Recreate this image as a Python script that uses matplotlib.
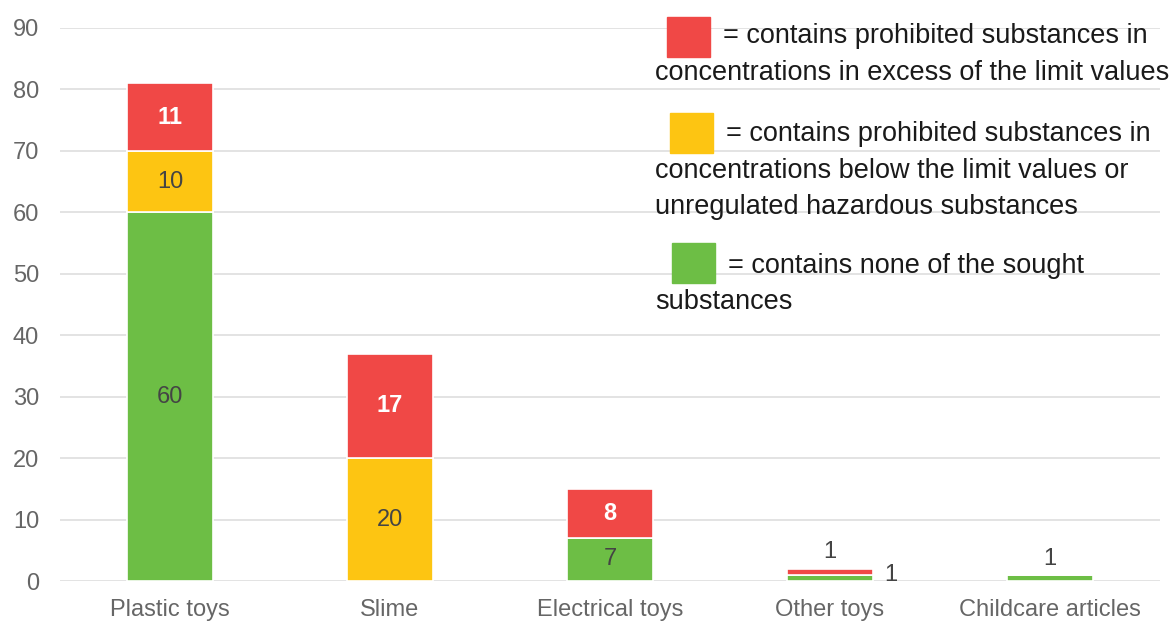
import matplotlib
matplotlib.use("Agg")
import matplotlib.pyplot as plt
from matplotlib.patches import Rectangle
import numpy as np

plt.rcParams['font.family'] = ['Liberation Sans', 'DejaVu Sans']

categories = ["Plastic toys", "Slime", "Electrical toys", "Other toys", "Childcare articles"]
none_found = [60, 0, 7, 1, 1]
below_limit = [10, 20, 0, 0, 0]
above_limit = [11, 17, 8, 1, 0]
y_ticks = [0, 10, 20, 30, 40, 50, 60, 70, 80, 90]

legend_texts = [
    "= contains prohibited substances in\nconcentrations in excess of the limit values",
    "= contains prohibited substances in\nconcentrations below the limit values or\nunregulated hazardous substances",
    "= contains none of the sought\nsubstances",
]

GREEN = "#6DBE45"
YELLOW = "#FDC512"
RED = "#F04846"
TICK_GRAY = "#666666"
LABEL_GRAY = "#444444"

W, H = 1175, 621
fig = plt.figure(figsize=(W / 100, H / 100), dpi=100)
ax = fig.add_axes([60 / W, 1 - 581 / H, 1100 / W, (581 - 28) / H])

x = np.arange(len(categories))
bw = 0.39
series = [(none_found, GREEN), (below_limit, YELLOW), (above_limit, RED)]
bottom = np.zeros(len(categories))
for vals, col in series:
    vals = np.array(vals, dtype=float)
    ax.bar(x, vals, bw, bottom=bottom, color=col, edgecolor="white",
           linewidth=1.2, zorder=3)
    bottom += vals

# segment value labels
bottom = np.zeros(len(categories))
for vals, col in series:
    for i, v in enumerate(vals):
        if v == 0:
            continue
        if v >= 5:
            bold = col == RED
            ax.text(x[i], bottom[i] + v / 2, str(v), ha="center", va="center",
                    fontsize=17, color="white" if bold else LABEL_GRAY,
                    fontweight="bold" if bold else "normal", zorder=4)
        bottom[i] += v

# small segments: labels placed outside the bars
ax.text(x[3], above_limit[3] + none_found[3] + 2.7, str(above_limit[3]), ha="center",
        va="center", fontsize=17, color=LABEL_GRAY)
ax.text(x[3] + bw / 2 + 0.08, none_found[3] / 2 + 0.4, str(none_found[3]), ha="center",
        va="center", fontsize=17, color=LABEL_GRAY)
ax.text(x[4], none_found[4] + 2.5, str(none_found[4]), ha="center",
        va="center", fontsize=17, color=LABEL_GRAY)

ax.set_xlim(-0.5, len(categories) - 0.5)
ax.set_ylim(0, 90)
ax.set_yticks(y_ticks)
ax.set_xticks(x)
ax.set_xticklabels(categories)
ax.tick_params(axis="both", length=0, labelsize=17, colors=TICK_GRAY)
ax.tick_params(axis="y", pad=15)
ax.tick_params(axis="x", pad=13)
ax.grid(axis="y", color="#E0E0E0", linewidth=1.3, zorder=0)
ax.set_axisbelow(True)
for s in ax.spines.values():
    s.set_visible(False)

# legend drawn as swatches and text in pixel positions
legend_items = [
    (RED, 667, 17, legend_texts[0], 36),
    (YELLOW, 670, 113, legend_texts[1], 134),
    (GREEN, 672, 243, legend_texts[2], 266),
]
for col, sx, sy, txt, ty in legend_items:
    fig.patches.append(Rectangle((sx / W, 1 - (sy + 40) / H), 43 / W, 40 / H,
                                 transform=fig.transFigure, color=col))
    lines = txt.split("\n")
    fig.text(sx / W + 56 / W, 1 - ty / H, lines[0], fontsize=19.5,
             color="#1A1A1A", va="center", ha="left")
    for k, ln in enumerate(lines[1:], start=1):
        fig.text(655 / W, 1 - (ty + 36.5 * k) / H, ln, fontsize=19.5,
                 color="#1A1A1A", va="center", ha="left")

fig.savefig("out.png", dpi=100, facecolor="white")
